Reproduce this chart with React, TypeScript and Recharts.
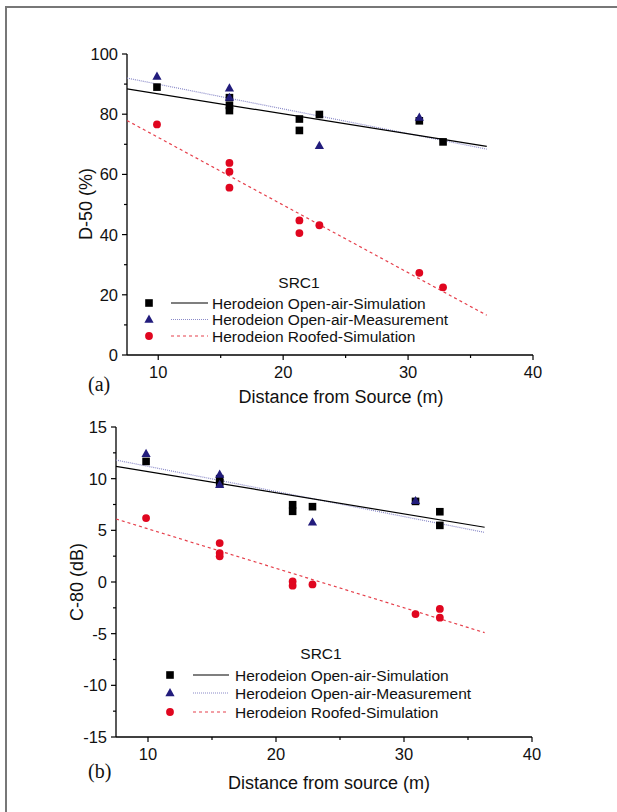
import React from 'react';
import { ScatterChart, Scatter, XAxis, YAxis, Legend } from 'recharts';

const FONT = '"Liberation Sans", Arial, Helvetica, sans-serif';
const BLACK = '#000000';
const NAVY = '#221c7c';
const RED = '#e0061f';
const DOT_BLUE = '#8a8ac8';
const DASH_RED = '#e6404c';

// panel (a): D-50 (%)
const d50SimDist = [9.9, 15.7, 15.7, 15.7, 21.3, 21.3, 22.9, 30.9, 32.8];
const d50SimVal = [89.0, 85.5, 82.9, 81.2, 78.4, 74.6, 79.9, 77.8, 70.8];
const d50MeasDist = [9.9, 15.7, 15.7, 22.9, 30.9];
const d50MeasVal = [92.5, 88.6, 85.5, 69.5, 78.9];
const d50RoofDist = [9.9, 15.7, 15.7, 15.7, 21.3, 21.3, 22.9, 30.9, 32.8];
const d50RoofVal = [76.6, 63.8, 60.9, 55.6, 44.7, 40.5, 43.1, 27.3, 22.5];
const fitDist = [7.5, 36.3];
const d50SimFit = [88.4, 69.3];
const d50MeasFit = [92.0, 68.4];
const d50RoofFit = [77.9, 13.2];

// panel (b): C-80 (dB)
const c80SimDist = [9.85, 15.6, 15.6, 21.3, 21.3, 22.85, 30.9, 32.8, 32.8];
const c80SimVal = [11.67, 10.0, 9.6, 7.48, 6.84, 7.29, 7.8, 6.8, 5.48];
const c80MeasDist = [9.85, 15.6, 15.6, 22.85, 30.9];
const c80MeasVal = [12.4, 10.4, 9.4, 5.77, 7.85];
const c80RoofDist = [9.85, 15.6, 15.6, 15.6, 21.3, 21.3, 22.85, 30.9, 32.8, 32.8];
const c80RoofVal = [6.19, 3.77, 2.8, 2.48, 0.06, -0.36, -0.23, -3.1, -2.61, -3.45];
const c80SimFit = [11.2, 5.3];
const c80MeasFit = [11.8, 4.8];
const c80RoofFit = [6.1, -4.9];

const xTicks = [10, 15, 20, 25, 30, 35, 40];
const d50Ticks = [0, 10, 20, 30, 40, 50, 60, 70, 80, 90, 100];
const c80Ticks = [-15, -12.5, -10, -7.5, -5, -2.5, 0, 2.5, 5, 7.5, 10, 12.5, 15];
const seriesNames = [
  'Herodeion Open-air-Simulation',
  'Herodeion Open-air-Measurement',
  'Herodeion Roofed-Simulation',
];

const zip = (xs: number[], ys: number[]) => xs.map((x, i) => ({ x, y: ys[i] }));

const Square = (p: any) => (
  <rect x={p.cx - 3.8} y={p.cy - 3.8} width={7.6} height={7.6} fill={BLACK} />
);
const Triangle = (p: any) => (
  <path d={`M${p.cx},${p.cy - 5} L${p.cx + 4.6},${p.cy + 3.2} L${p.cx - 4.6},${p.cy + 3.2} Z`} fill={NAVY} />
);
const Dot = (p: any) => <circle cx={p.cx} cy={p.cy} r={3.9} fill={RED} />;
const NoShape = () => <g />;

const makeYTick = (step: number) => (props: any) => {
  const { x, y, payload } = props;
  const major = Math.abs(payload.value / step - Math.round(payload.value / step)) < 1e-6;
  const len = major ? 5 : 3;
  return (
    <g>
      <line x1={x - len} x2={x} y1={y} y2={y} stroke={BLACK} strokeWidth={1.2} />
      {major && (
        <text x={x - 9} y={y} textAnchor="end" dominantBaseline="central" fontSize={16.5} fontFamily={FONT} fill="#111">
          {payload.value}
        </text>
      )}
    </g>
  );
};

const XTick = (props: any) => {
  const { x, y, payload } = props;
  const major = payload.value % 10 === 0;
  const len = major ? 5 : 3;
  return (
    <g>
      <line x1={x} x2={x} y1={y} y2={y + len} stroke={BLACK} strokeWidth={1.2} />
      {major && (
        <text x={x} y={y + 17} textAnchor="middle" dominantBaseline="central" fontSize={16.5} fontFamily={FONT} fill="#111">
          {payload.value}
        </text>
      )}
    </g>
  );
};

const LegendBox = ({ cx, rows, marker, lineX, textX }: any) => (
  <svg width={360} height={90} style={{ overflow: 'visible' }}>
    <text x={cx} y={rows[0] - (rows[1] - rows[0]) - 4} textAnchor="middle" dominantBaseline="central" fontSize={15.5} fontFamily={FONT} fill="#111">
      SRC1
    </text>
    <Square cx={marker} cy={rows[0]} />
    <Triangle cx={marker} cy={rows[1]} />
    <Dot cx={marker} cy={rows[2]} />
    <line x1={lineX[0]} x2={lineX[1]} y1={rows[0]} y2={rows[0]} stroke={BLACK} strokeWidth={1.2} />
    <line x1={lineX[0]} x2={lineX[1]} y1={rows[1]} y2={rows[1]} stroke={DOT_BLUE} strokeWidth={1.2} strokeDasharray="1 1" />
    <line x1={lineX[0]} x2={lineX[1]} y1={rows[2]} y2={rows[2]} stroke={DASH_RED} strokeWidth={1.2} strokeDasharray="3 3" />
    {seriesNames.map((n, i) => (
      <text key={n} x={textX} y={rows[i]} dominantBaseline="central" fontSize={15.5} fontFamily={FONT} fill="#111">
        {n}
      </text>
    ))}
  </svg>
);

const axisLine = { stroke: BLACK, strokeWidth: 1.3 };

export default function App() {
  return (
    <div style={{ position: 'absolute', left: 0, top: 0, width: 617, height: 812, background: '#fff', overflow: 'hidden' }}>
      <div style={{ position: 'absolute', left: 5, top: 6, width: 700, height: 900, borderLeft: '2px solid #777', borderTop: '2px solid #777' }} />

      {/* panel (a) */}
      <div style={{ position: 'absolute', left: 0, top: 0 }}>
        <ScatterChart width={617} height={410} margin={{ top: 54, right: 84, bottom: 25, left: 67 }}>
          <XAxis type="number" dataKey="x" domain={[7.5, 40]} ticks={xTicks} tick={XTick} tickSize={0} tickMargin={0} tickLine={false} axisLine={axisLine} allowDataOverflow interval={0} />
          <YAxis type="number" dataKey="y" domain={[0, 100]} ticks={d50Ticks} tick={makeYTick(20)} tickSize={0} tickMargin={0} tickLine={false} axisLine={axisLine} width={60} interval={0} />
          <Scatter data={zip(fitDist, d50MeasFit)} shape={NoShape} line={{ stroke: DOT_BLUE, strokeWidth: 1.2, strokeDasharray: '1 1' }} isAnimationActive={false} />
          <Scatter data={zip(fitDist, d50SimFit)} shape={NoShape} line={{ stroke: BLACK, strokeWidth: 1.2 }} isAnimationActive={false} />
          <Scatter data={zip(fitDist, d50RoofFit)} shape={NoShape} line={{ stroke: DASH_RED, strokeWidth: 1.2, strokeDasharray: '3 3' }} isAnimationActive={false} />
          <Scatter data={zip(d50RoofDist, d50RoofVal)} shape={Dot} isAnimationActive={false} />
          <Scatter data={zip(d50SimDist, d50SimVal)} shape={Square} isAnimationActive={false} />
          <Scatter data={zip(d50MeasDist, d50MeasVal)} shape={Triangle} isAnimationActive={false} />
          <Legend
            layout="vertical"
            align="center"
            verticalAlign="middle"
            wrapperStyle={{ position: 'absolute', left: 130, top: 268, width: 360, height: 90 }}
            content={() => <LegendBox cx={169} rows={[35, 51.5, 68]} marker={19} lineX={[41, 78]} textX={82} />}
          />
        </ScatterChart>
        <div style={{ position: 'absolute', left: 86, top: 204, transform: 'translate(-50%,-50%) rotate(-90deg)', fontFamily: FONT, fontSize: 18, whiteSpace: 'nowrap', color: '#111' }}>
          D-50 (%)
        </div>
        <div style={{ position: 'absolute', left: 341, top: 397, transform: 'translate(-50%,-50%)', fontFamily: FONT, fontSize: 18, whiteSpace: 'nowrap', color: '#111' }}>
          Distance from Source (m)
        </div>
        <div style={{ position: 'absolute', left: 88, top: 384, transform: 'translate(0,-50%)', fontFamily: '"Liberation Serif", "Times New Roman", serif', fontSize: 20, color: '#111' }}>
          (a)
        </div>
      </div>

      {/* panel (b) */}
      <div style={{ position: 'absolute', left: 0, top: 400 }}>
        <ScatterChart width={617} height={412} margin={{ top: 27, right: 85, bottom: 45, left: 56 }}>
          <XAxis type="number" dataKey="x" domain={[7.5, 40]} ticks={xTicks} tick={XTick} tickSize={0} tickMargin={0} tickLine={false} axisLine={axisLine} allowDataOverflow interval={0} />
          <YAxis type="number" dataKey="y" domain={[-15, 15]} ticks={c80Ticks} tick={makeYTick(5)} tickSize={0} tickMargin={0} tickLine={false} axisLine={axisLine} width={60} interval={0} />
          <Scatter data={zip(fitDist, c80MeasFit)} shape={NoShape} line={{ stroke: DOT_BLUE, strokeWidth: 1.2, strokeDasharray: '1 1' }} isAnimationActive={false} />
          <Scatter data={zip(fitDist, c80SimFit)} shape={NoShape} line={{ stroke: BLACK, strokeWidth: 1.2 }} isAnimationActive={false} />
          <Scatter data={zip(fitDist, c80RoofFit)} shape={NoShape} line={{ stroke: DASH_RED, strokeWidth: 1.2, strokeDasharray: '3 3' }} isAnimationActive={false} />
          <Scatter data={zip(c80RoofDist, c80RoofVal)} shape={Dot} isAnimationActive={false} />
          <Scatter data={zip(c80SimDist, c80SimVal)} shape={Square} isAnimationActive={false} />
          <Scatter data={zip(c80MeasDist, c80MeasVal)} shape={Triangle} isAnimationActive={false} />
          <Legend
            layout="vertical"
            align="center"
            verticalAlign="middle"
            wrapperStyle={{ position: 'absolute', left: 150, top: 230, width: 360, height: 90 }}
            content={() => <LegendBox cx={171} rows={[45, 63, 82]} marker={20} lineX={[43, 79]} textX={85} />}
          />
        </ScatterChart>
        <div style={{ position: 'absolute', left: 77, top: 182, transform: 'translate(-50%,-50%) rotate(-90deg)', fontFamily: FONT, fontSize: 18, whiteSpace: 'nowrap', color: '#111' }}>
          C-80 (dB)
        </div>
        <div style={{ position: 'absolute', left: 329, top: 383, transform: 'translate(-50%,-50%)', fontFamily: FONT, fontSize: 18, whiteSpace: 'nowrap', color: '#111' }}>
          Distance from source (m)
        </div>
        <div style={{ position: 'absolute', left: 88, top: 371, transform: 'translate(0,-50%)', fontFamily: '"Liberation Serif", "Times New Roman", serif', fontSize: 20, color: '#111' }}>
          (b)
        </div>
      </div>
    </div>
  );
}
